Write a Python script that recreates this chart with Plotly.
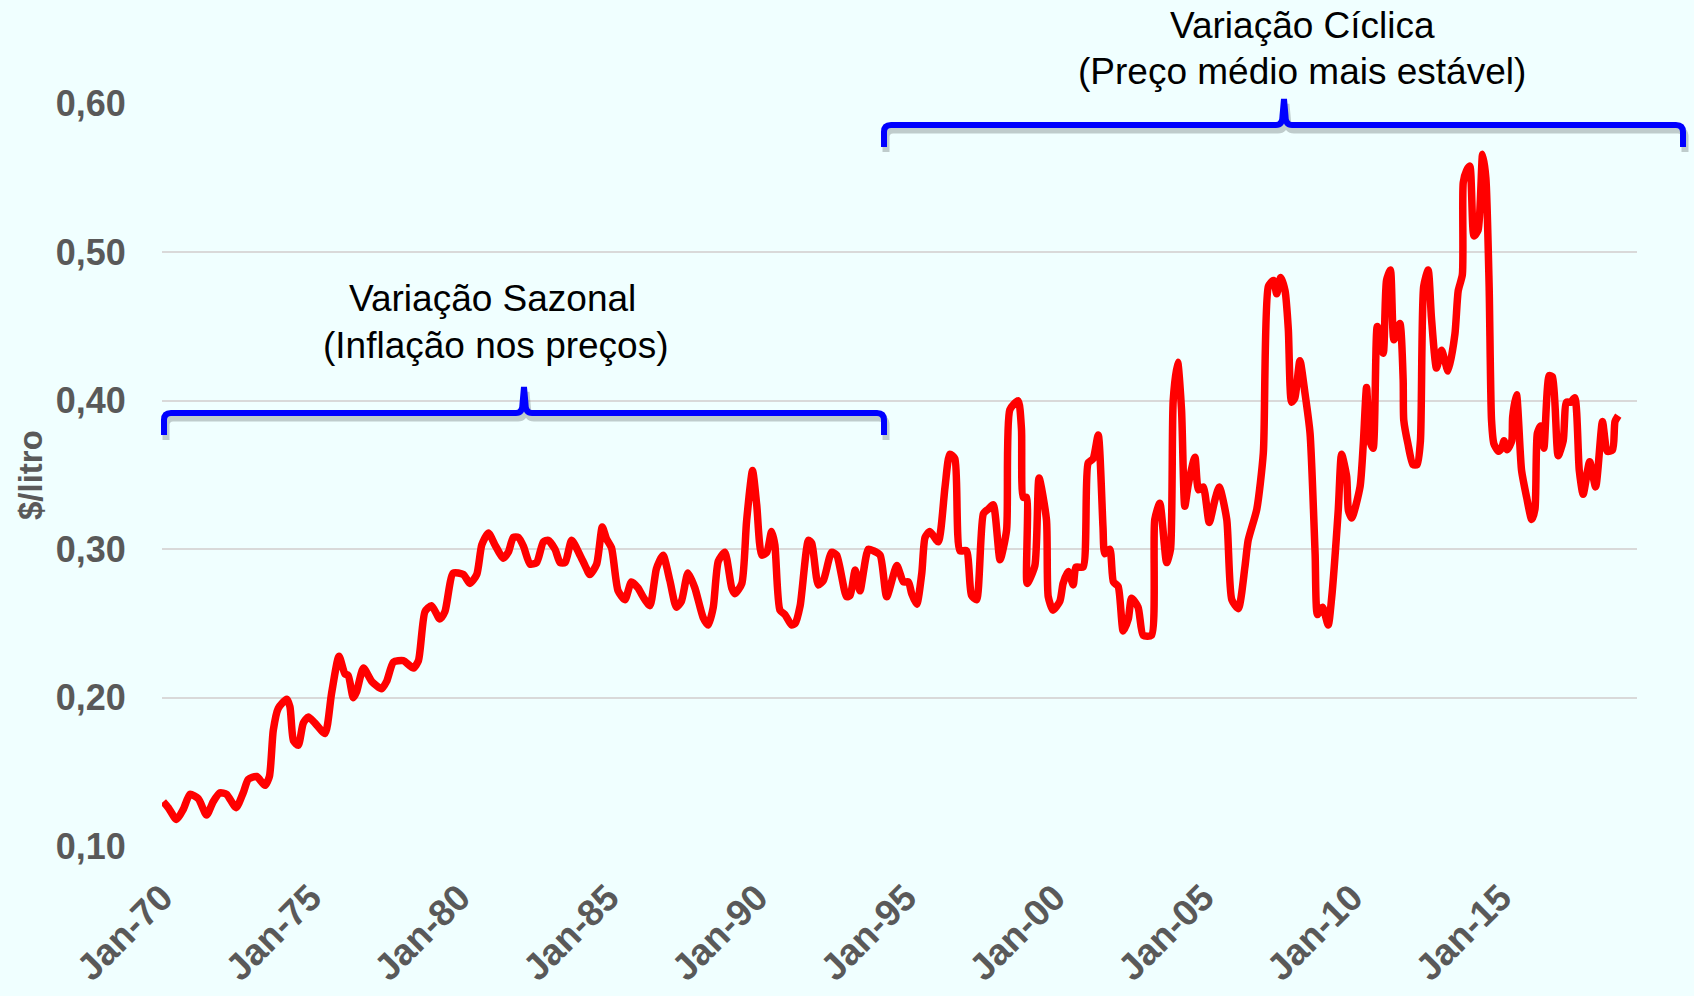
"""Preço da gasolina ($/litro), 1970-2018, com chaves de anotação."""

import plotly.graph_objects as go

# decimal year of each read-off vertex and the price at that vertex
years = [
    1970.04, 1970.21, 1970.49, 1970.72, 1970.94, 1971.22, 1971.50, 1971.72, 1971.95, 1972.17,
    1972.49, 1972.73, 1972.90, 1973.18, 1973.46, 1973.61, 1973.74, 1973.91, 1974.19, 1974.30,
    1974.42, 1974.58, 1974.75, 1974.92, 1975.14, 1975.48, 1975.70, 1975.95, 1976.15, 1976.26,
    1976.43, 1976.54, 1976.77, 1977.05, 1977.38, 1977.55, 1977.78, 1978.11, 1978.45, 1978.62,
    1978.84, 1979.06, 1979.34, 1979.51, 1979.79, 1980.13, 1980.35, 1980.58, 1980.75, 1980.97,
    1981.19, 1981.47, 1981.64, 1981.81, 1981.98, 1982.15, 1982.37, 1982.59, 1982.82, 1982.98,
    1983.21, 1983.38, 1983.55, 1983.77, 1984.05, 1984.22, 1984.38, 1984.61, 1984.80, 1984.94,
    1985.11, 1985.33, 1985.56, 1985.78, 1986.00, 1986.17, 1986.40, 1986.62, 1986.84, 1987.07,
    1987.29, 1987.46, 1987.68, 1987.91, 1988.19, 1988.36, 1988.53, 1988.70, 1988.92, 1989.15,
    1989.26, 1989.49, 1989.65, 1989.85, 1989.99, 1990.16, 1990.33, 1990.49, 1990.60, 1990.77,
    1990.94, 1991.16, 1991.28, 1991.45, 1991.73, 1991.84, 1992.06, 1992.23, 1992.51, 1992.68,
    1993.01, 1993.13, 1993.30, 1993.46, 1993.74, 1993.91, 1994.14, 1994.36, 1994.70, 1994.92,
    1995.09, 1995.20, 1995.37, 1995.54, 1995.65, 1995.81, 1996.09, 1996.32, 1996.48, 1996.65,
    1996.82, 1997.04, 1997.21, 1997.38, 1997.61, 1997.77, 1997.94, 1998.17, 1998.39, 1998.50,
    1998.78, 1998.89, 1998.95, 1999.06, 1999.08, 1999.34, 1999.48, 1999.73, 1999.79, 1999.95,
    2000.18, 2000.29, 2000.46, 2000.63, 2000.72, 2000.96, 2001.13, 2001.30, 2001.47, 2001.63,
    2001.69, 2001.86, 2001.98, 2002.14, 2002.31, 2002.48, 2002.59, 2002.81, 2002.98, 2003.26,
    2003.37, 2003.54, 2003.77, 2003.90, 2003.99, 2004.14, 2004.27, 2004.38, 2004.50, 2004.72,
    2004.84, 2005.00, 2005.20, 2005.39, 2005.54, 2005.79, 2005.96, 2006.18, 2006.40, 2006.51,
    2006.80, 2007.02, 2007.19, 2007.36, 2007.47, 2007.60, 2007.75, 2007.86, 2007.97, 2008.08,
    2008.25, 2008.42, 2008.59, 2008.76, 2008.84, 2009.01, 2009.20, 2009.31, 2009.54, 2009.65,
    2009.82, 2009.88, 2009.99, 2010.27, 2010.38, 2010.49, 2010.60, 2010.71, 2010.85, 2011.05,
    2011.16, 2011.29, 2011.41, 2011.61, 2011.72, 2011.74, 2011.88, 2012.05, 2012.19, 2012.30,
    2012.41, 2012.56, 2012.67, 2012.84, 2013.01, 2013.23, 2013.46, 2013.57, 2013.71, 2013.74,
    2013.85, 2013.96, 2014.10, 2014.24, 2014.39, 2014.50, 2014.61, 2014.69, 2014.77, 2014.92,
    2015.03, 2015.11, 2015.22, 2015.37, 2015.40, 2015.53, 2015.70, 2015.87, 2016.04, 2016.15,
    2016.23, 2016.34, 2016.45, 2016.63, 2016.74, 2016.93, 2017.10, 2017.21, 2017.35, 2017.49,
    2017.64, 2017.77, 2017.99, 2018.19, 2018.42, 2018.58, 2018.76, 2018.84, 2018.95,
]
prices = [
    0.130, 0.126, 0.118, 0.125, 0.135, 0.132, 0.121, 0.130, 0.136, 0.135,
    0.126, 0.136, 0.145, 0.147, 0.141, 0.147, 0.178, 0.193, 0.199, 0.194,
    0.171, 0.168, 0.183, 0.187, 0.183, 0.176, 0.203, 0.228, 0.216, 0.215,
    0.200, 0.204, 0.220, 0.211, 0.206, 0.211, 0.224, 0.225, 0.220, 0.225,
    0.258, 0.262, 0.253, 0.258, 0.284, 0.283, 0.277, 0.283, 0.303, 0.311,
    0.303, 0.294, 0.298, 0.308, 0.308, 0.302, 0.290, 0.291, 0.305, 0.306,
    0.300, 0.291, 0.291, 0.306, 0.296, 0.289, 0.283, 0.290, 0.315, 0.307,
    0.301, 0.272, 0.266, 0.278, 0.274, 0.268, 0.262, 0.287, 0.296, 0.279,
    0.261, 0.265, 0.284, 0.274, 0.254, 0.249, 0.261, 0.292, 0.298, 0.274,
    0.270, 0.277, 0.319, 0.353, 0.330, 0.296, 0.298, 0.312, 0.303, 0.259,
    0.256, 0.249, 0.250, 0.262, 0.306, 0.304, 0.276, 0.279, 0.298, 0.296,
    0.268, 0.269, 0.286, 0.272, 0.300, 0.299, 0.296, 0.268, 0.289, 0.278,
    0.278, 0.270, 0.263, 0.284, 0.308, 0.312, 0.305, 0.342, 0.364, 0.361,
    0.299, 0.299, 0.269, 0.266, 0.324, 0.327, 0.330, 0.293, 0.313, 0.394,
    0.400, 0.381, 0.335, 0.335, 0.277, 0.289, 0.348, 0.320, 0.268, 0.259,
    0.265, 0.277, 0.285, 0.276, 0.288, 0.288, 0.358, 0.361, 0.377, 0.315,
    0.297, 0.300, 0.278, 0.275, 0.245, 0.253, 0.267, 0.261, 0.242, 0.242,
    0.320, 0.331, 0.291, 0.300, 0.400, 0.426, 0.394, 0.329, 0.344, 0.362,
    0.340, 0.342, 0.318, 0.333, 0.342, 0.320, 0.266, 0.260, 0.288, 0.306,
    0.327, 0.365, 0.477, 0.481, 0.472, 0.483, 0.474, 0.448, 0.399, 0.402,
    0.427, 0.405, 0.378, 0.297, 0.256, 0.261, 0.249, 0.266, 0.327, 0.364,
    0.349, 0.326, 0.321, 0.342, 0.371, 0.409, 0.373, 0.368, 0.450, 0.432,
    0.481, 0.488, 0.441, 0.452, 0.414, 0.387, 0.371, 0.357, 0.357, 0.373,
    0.477, 0.488, 0.456, 0.422, 0.434, 0.420, 0.445, 0.474, 0.485, 0.547,
    0.555, 0.558, 0.511, 0.515, 0.566, 0.550, 0.477, 0.387, 0.371, 0.366,
    0.368, 0.373, 0.367, 0.373, 0.389, 0.404, 0.353, 0.335, 0.320, 0.327,
    0.378, 0.383, 0.368, 0.417, 0.416, 0.363, 0.373, 0.399, 0.399, 0.402,
    0.353, 0.337, 0.359, 0.342, 0.386, 0.366, 0.367, 0.386, 0.390,
]

tick_years = [1970, 1975, 1980, 1985, 1990, 1995, 2000, 2005, 2010, 2015]
tick_labels = ["Jan-70", "Jan-75", "Jan-80", "Jan-85", "Jan-90",
               "Jan-95", "Jan-00", "Jan-05", "Jan-10", "Jan-15"]
y_ticks = [0.10, 0.20, 0.30, 0.40, 0.50, 0.60]
y_tick_labels = ["0,10", "0,20", "0,30", "0,40", "0,50", "0,60"]

W, H = 1694, 996
M_L, M_R, M_T, M_B = 162, 57, 103, 149
PW, PH = W - M_L - M_R, H - M_T - M_B
BG = "#F0FFFF"
GREY = "#595959"
FONT = "Liberation Sans, Arial, sans-serif"


def px(x, y):
    """pixel position -> paper coordinates"""
    return (x - M_L) / PW, (H - M_B - y) / PH


def brace_path(x0, x1, xt, yh, yend, ytip, dx=0, dy=0, r=7):
    pts = [
        ("M", [(x0, yend)]),
        ("L", [(x0, yh + r)]),
        ("Q", [(x0, yh), (x0 + r, yh)]),
        ("L", [(xt - 8, yh)]),
        ("Q", [(xt - 1.5, yh), (xt - 1.5, yh - 9)]),
        ("L", [(xt, ytip)]),
        ("L", [(xt + 1.5, yh - 9)]),
        ("Q", [(xt + 1.5, yh), (xt + 8, yh)]),
        ("L", [(x1 - r, yh)]),
        ("Q", [(x1, yh), (x1, yh + r)]),
        ("L", [(x1, yend)]),
    ]
    out = []
    for cmd, coords in pts:
        s = " ".join("%.5f,%.5f" % px(cx + dx, cy + dy) for cx, cy in coords)
        out.append(cmd + " " + s)
    return " ".join(out)


fig = go.Figure()
fig.add_trace(
    go.Scatter(
        x=years,
        y=prices,
        mode="lines",
        line=dict(color="#FF0000", width=7.5, shape="spline", smoothing=0.6),
        showlegend=False,
        hoverinfo="skip",
    )
)

braces = [
    (164, 884, 524, 413, 435, 387),
    (884, 1683, 1284, 125, 147, 99),
]
for b in braces:
    fig.add_shape(type="path", path=brace_path(*b, dx=2, dy=5), xref="paper", yref="paper",
                  line=dict(color="rgba(100,110,110,0.35)", width=7), layer="above")
    fig.add_shape(type="path", path=brace_path(*b), xref="paper", yref="paper",
                  line=dict(color="#0000FF", width=6), layer="above")

labels = [
    ("Variação Cíclica", 1302, 25),
    ("(Preço médio mais estável)", 1302, 71),
    ("Variação Sazonal", 492, 298),
    ("(Inflação nos preços)", 496, 345),
]
for txt, lx, ly in labels:
    ax, ay = px(lx, ly)
    fig.add_annotation(x=ax, y=ay, xref="paper", yref="paper", text=txt, showarrow=False,
                       xanchor="center", yanchor="middle",
                       font=dict(family=FONT, size=37, color="#000000"))

tx, ty = px(30, 475)
fig.add_annotation(x=tx, y=ty, xref="paper", yref="paper", text="<b>$/litro</b>",
                   showarrow=False, textangle=-90, xanchor="center", yanchor="middle",
                   font=dict(family=FONT, size=33, color=GREY))

fig.update_xaxes(
    range=[1970, 2019.58],
    tickmode="array",
    tickvals=tick_years,
    ticktext=["<b>%s</b>" % t for t in tick_labels],
    tickangle=-45,
    tickfont=dict(family=FONT, size=37, color=GREY),
    ticks="outside",
    ticklen=13,
    tickcolor="rgba(0,0,0,0)",
    showgrid=False,
    zeroline=False,
    showline=False,
    automargin=False,
)
fig.update_yaxes(
    range=[0.0995, 0.6005],
    tickmode="array",
    tickvals=y_ticks,
    ticktext=["<b>%s</b>" % t for t in y_tick_labels],
    tickfont=dict(family=FONT, size=36, color=GREY),
    ticks="outside",
    ticklen=28,
    tickcolor="rgba(0,0,0,0)",
    showgrid=True,
    gridcolor="#D9D9D9",
    gridwidth=2,
    zeroline=False,
    showline=False,
    automargin=False,
)
fig.update_layout(
    width=W,
    height=H,
    margin=dict(l=M_L, r=M_R, t=M_T, b=M_B),
    paper_bgcolor=BG,
    plot_bgcolor=BG,
    showlegend=False,
)

fig.write_html(
    "out.html",
    config={"displayModeBar": False},
    post_script="document.body.style.margin='0px';",
)
